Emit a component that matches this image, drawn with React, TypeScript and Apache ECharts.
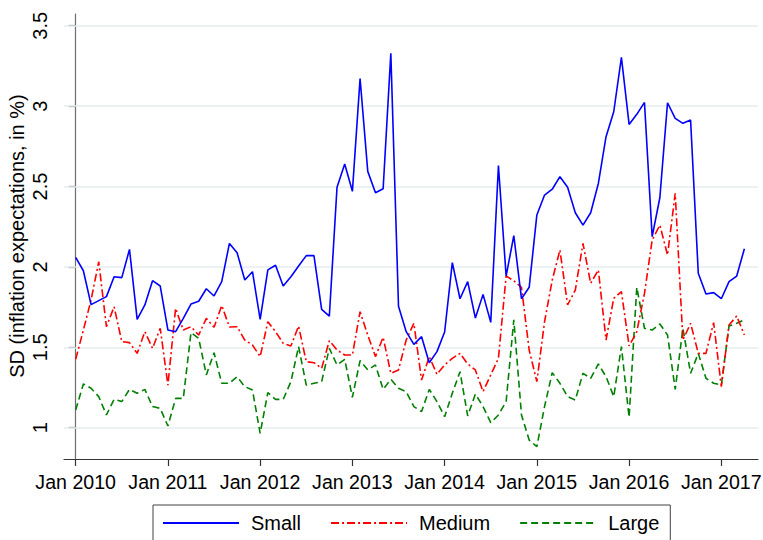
import React, { useEffect, useRef } from "react";
import * as echarts from "echarts";

// Monthly observations, Jan 2010 .. Apr 2017 (88 months)
const small = [
  2.059, 1.976, 1.765, 1.79, 1.815, 1.939, 1.933, 2.109, 1.674, 1.763, 1.914, 1.881,
  1.607, 1.597, 1.68, 1.769, 1.786, 1.864, 1.819, 1.908, 2.146, 2.088, 1.918, 1.97,
  1.674, 1.981, 2.01, 1.881, 1.939, 2.005, 2.07, 2.07, 1.736, 1.694, 2.495, 2.64,
  2.47, 3.172, 2.594, 2.461, 2.486, 3.328, 1.755, 1.597, 1.518, 1.566, 1.404, 1.473,
  1.595, 2.026, 1.802, 1.908, 1.682, 1.829, 1.655, 2.631, 1.943, 2.194, 1.802, 1.873,
  2.323, 2.447, 2.483, 2.561, 2.495, 2.337, 2.26, 2.337, 2.519, 2.81, 2.965, 3.303,
  2.886, 2.949, 3.023, 2.188, 2.43, 3.021, 2.924, 2.893, 2.913, 1.96, 1.831, 1.84,
  1.802, 1.908, 1.943, 2.113,
];
const medium = [
  1.425, 1.607, 1.794, 2.032, 1.628, 1.752, 1.535, 1.529, 1.462, 1.597, 1.493, 1.618,
  1.265, 1.742, 1.607, 1.628, 1.576, 1.68, 1.624, 1.76, 1.626, 1.628, 1.545, 1.514,
  1.442, 1.659, 1.597, 1.524, 1.508, 1.632, 1.41, 1.404, 1.369, 1.541, 1.483, 1.452,
  1.452, 1.721, 1.576, 1.442, 1.562, 1.338, 1.359, 1.545, 1.649, 1.296, 1.442, 1.332,
  1.39, 1.431, 1.462, 1.396, 1.359, 1.224, 1.328, 1.431, 1.943, 1.914, 1.873, 1.483,
  1.286, 1.659, 1.918, 2.105, 1.763, 1.856, 2.146, 1.898, 1.981, 1.545, 1.804, 1.846,
  1.508, 1.597, 1.835, 2.167, 2.26, 2.074, 2.457, 1.545, 1.649, 1.462, 1.462, 1.653,
  1.255, 1.638, 1.694, 1.576,
];
const large = [
  1.11, 1.272, 1.245, 1.193, 1.079, 1.176, 1.162, 1.238, 1.214, 1.238, 1.131, 1.12,
  1.01, 1.182, 1.182, 1.591, 1.556, 1.328, 1.466, 1.276, 1.276, 1.317, 1.255, 1.234,
  0.965, 1.218, 1.176, 1.176, 1.286, 1.504, 1.265, 1.276, 1.286, 1.493, 1.39, 1.425,
  1.189, 1.417, 1.359, 1.39, 1.238, 1.301, 1.245, 1.224, 1.131, 1.1, 1.238, 1.162,
  1.068, 1.214, 1.348, 1.073, 1.209, 1.131, 1.031, 1.079, 1.162, 1.67, 1.079, 0.923,
  0.882, 1.131, 1.342, 1.276, 1.193, 1.172, 1.338, 1.307, 1.396, 1.317, 1.193, 1.504,
  1.064, 1.873, 1.618, 1.607, 1.645, 1.576, 1.238, 1.618, 1.338, 1.462, 1.307, 1.276,
  1.265, 1.632, 1.649, 1.67,
];

const seriesNames = ["Small", "Medium", "Large"];
const xTickMonths = [0, 12, 24, 36, 48, 60, 72, 84];
const xTickLabels = ["Jan 2010", "Jan 2011", "Jan 2012", "Jan 2013", "Jan 2014", "Jan 2015", "Jan 2016", "Jan 2017"];
const yTicks = [1, 1.5, 2, 2.5, 3, 3.5];
const yTitle = "SD (inflation expectations, in %)";

const FONT = '"Liberation Sans", Arial, Helvetica, sans-serif';

export default function App() {
  const ref = useRef<HTMLDivElement>(null);
  useEffect(() => {
    if (!ref.current) return;
    const chart = echarts.init(ref.current, undefined, { renderer: "svg" });
    const toPts = (arr: number[]) => arr.map((v, i) => [i, v]);
    const labelFor = (v: number) => {
      const idx = xTickMonths.indexOf(Math.round(v));
      return idx >= 0 ? xTickLabels[idx] : "";
    };
    chart.setOption({
      animation: false,
      backgroundColor: "#ffffff",
      textStyle: { fontFamily: FONT },
      grid: { left: 64, right: 5, top: 14, bottom: 81, containLabel: false, outerBoundsMode: "none" },
      xAxis: {
        type: "value",
        min: -1.52,
        max: 88.77,
        axisLine: { show: true, lineStyle: { color: "#333333", width: 1.2 } },
        axisTick: { show: true, length: 7, customValues: xTickMonths, lineStyle: { color: "#333333", width: 1.2 } },
        axisLabel: {
          show: true,
          customValues: xTickMonths,
          formatter: (v: number) => labelFor(v),
          fontSize: 19.6,
          color: "#000000",
          fontFamily: FONT,
          margin: 13,
          hideOverlap: false,
        },
        splitLine: { show: false },
      },
      yAxis: {
        type: "value",
        min: 0.805,
        max: 3.573,
        axisLine: { show: true, lineStyle: { color: "#6e6e6e", width: 1.2 } },
        axisTick: { show: true, length: 7, customValues: yTicks, lineStyle: { color: "#6e6e6e", width: 1.2 } },
        axisLabel: {
          show: true,
          customValues: yTicks,
          rotate: 90,
          fontSize: 20,
          color: "#000000",
          fontFamily: FONT,
          margin: 14,
          formatter: (v: number) => String(v),
        },
        splitLine: { show: false },
      },
      legend: {
        left: 153,
        top: 505,
        orient: "horizontal",
        itemWidth: 76,
        itemHeight: 14,
        itemGap: 29,
        padding: [8, 11, 30, 9],
        borderColor: "#404040",
        borderWidth: 1,
        data: seriesNames,
        itemStyle: { opacity: 0 },
        textStyle: { fontSize: 20, color: "#000000", fontFamily: FONT, padding: [0, 0, 0, 7] },
      },
      graphic: [
        {
          type: "text",
          x: 17,
          y: 236,
          rotation: Math.PI / 2,
          style: {
            text: yTitle,
            font: `20px ${FONT}`,
            fill: "#000000",
            align: "center",
            verticalAlign: "middle",
          },
        },
      ],
      series: [
        {
          name: "Small",
          type: "line",
          data: toPts(small),
          symbol: "none",
          color: "#0000ff",
          lineStyle: { color: "#0000ff", width: 1.6, type: "solid" },
          z: 4,
          markLine: {
            silent: true,
            symbol: "none",
            z: 1,
            label: { show: false },
            lineStyle: { color: "#e6eef0", width: 1.5, type: "solid" },
            data: yTicks.map((t) => ({ yAxis: t })),
          },
        },
        {
          name: "Medium",
          type: "line",
          data: toPts(medium),
          symbol: "none",
          color: "#ff0000",
          lineStyle: { color: "#ff0000", width: 1.6, type: [8, 3, 2, 3] },
          z: 3,
        },
        {
          name: "Large",
          type: "line",
          data: toPts(large),
          symbol: "none",
          color: "#008000",
          lineStyle: { color: "#008000", width: 1.6, type: [7, 4] },
          z: 2,
        },
      ],
    });
    return () => chart.dispose();
  }, []);
  return (
    <div
      ref={ref}
      style={{ position: "fixed", left: 0, top: 0, width: 763, height: 540, background: "#fff" }}
    />
  );
}
